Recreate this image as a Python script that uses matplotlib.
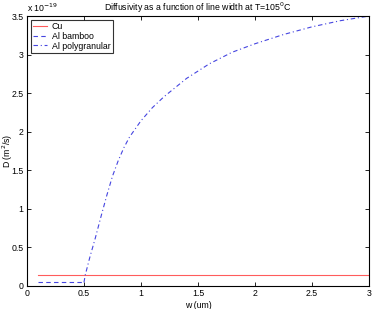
import matplotlib
matplotlib.use("Agg")
import matplotlib.pyplot as plt

plt.rcParams['font.family'] = ['Liberation Sans', 'DejaVu Sans']

# Data (D in units of 1e-19 m^2/s)
w_cu = [0.1, 3.0]
d_cu = [0.14, 0.14]

w_bamboo = [0.1, 0.5]
d_bamboo = [0.04, 0.04]

w_poly = [0.5, 0.51, 0.55, 0.6, 0.65, 0.7, 0.75, 0.8, 0.85, 0.9, 1.0, 1.1, 1.2, 1.4, 1.6, 1.8, 2.0, 2.25, 2.5, 2.75, 3.0]
d_poly = [0.04, 0.13, 0.36, 0.62, 0.90, 1.17, 1.42, 1.62, 1.79, 1.93, 2.14, 2.31, 2.45, 2.69, 2.88, 3.03, 3.14, 3.26, 3.36, 3.44, 3.50]

xticks = [0, 0.5, 1, 1.5, 2, 2.5, 3]
xticklabels = ['0', '0.5', '1', '1.5', '2', '2.5', '3']
yticks = [0, 0.5, 1, 1.5, 2, 2.5, 3, 3.5]
yticklabels = ['0', '0.5', '1', '1.5', '2', '2.5', '3', '3.5']

fig = plt.figure(figsize=(3.73, 3.09), dpi=100)
ax = fig.add_axes([0.0724, 0.076, 0.9166, 0.872])

ax.plot(w_cu, d_cu, color='#ff5c5c', lw=0.8, label='Cu')
ax.plot(w_bamboo, d_bamboo, color='#4545e0', lw=0.8, ls=(0, (4, 3)), label='Al bamboo')
ax.plot(w_poly, d_poly, color='#4545e0', lw=0.8, ls=(0, (4, 2.5, 1, 2.5)), label='Al polygranular')

ax.set_xlim(0, 3)
ax.set_ylim(0, 3.5)
ax.set_xticks(xticks)
ax.set_xticklabels(xticklabels)
ax.set_yticks(yticks)
ax.set_yticklabels(yticklabels)
ax.tick_params(direction='in', length=3, width=0.6, labelsize=6.3, top=True, right=True, pad=2.5)
for s in ax.spines.values():
    s.set_linewidth(0.8)

ax.set_xlabel('w (um)', fontsize=6.3, labelpad=2)
ax.set_ylabel('D (m$^2$/s)', fontsize=6.3)
ax.yaxis.set_label_coords(-0.036, 0.5)
ax.set_title('Diffusivity as a function of line width at T=105$^0$C', fontsize=6.3, pad=4)
ax.text(0.0, 1.008, 'x 10$^{-19}$', transform=ax.transAxes, fontsize=6.3, ha='left', va='bottom')

leg = ax.legend(loc='upper left', fontsize=6.3, frameon=True, fancybox=False,
                edgecolor='black', handlelength=1.6, borderpad=0.25, labelspacing=0.1,
                handletextpad=0.6, borderaxespad=0.4)
leg.get_frame().set_linewidth(0.8)

fig.savefig('out.png', dpi=100)
